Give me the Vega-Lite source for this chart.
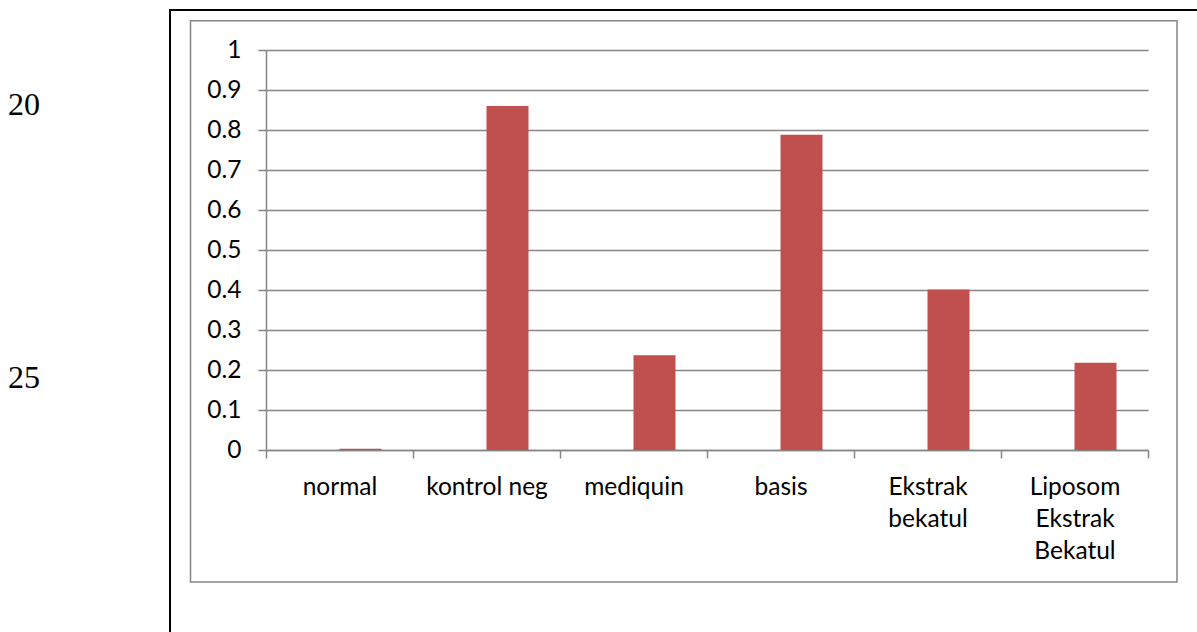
{
  "$schema": "https://vega.github.io/schema/vega-lite/v6.json",
  "width": 882,
  "height": 400,
  "autosize": {"type": "none"},
  "padding": {"left": 266, "top": 50, "right": 49, "bottom": 182},
  "background": "#ffffff",
  "config": {
    "view": {"stroke": null},
    "font": "Lato"
  },
  "resolve": {"scale": {"x": "independent", "y": "independent"}},
  "layer": [
    {
      "description": "page border (top and left edges)",
      "data": {"values": [{"kotak": "halaman"}]},
      "mark": {"type": "rect", "fillOpacity": 0, "stroke": "#000000", "strokeWidth": 2},
      "encoding": {
        "x": {"datum": 0, "type": "quantitative", "scale": {"domain": [0, 1], "range": [-96, 1000]}, "axis": null},
        "x2": {"datum": 1},
        "y": {"datum": 0, "type": "quantitative", "scale": {"domain": [0, 1], "range": [-40, 700]}, "axis": null},
        "y2": {"datum": 1}
      }
    },
    {
      "description": "chart area border",
      "data": {"values": [{"kotak": "grafik"}]},
      "mark": {"type": "rect", "fillOpacity": 0, "stroke": "#868686", "strokeWidth": 1.5},
      "encoding": {
        "x": {"datum": 0, "type": "quantitative", "scale": {"domain": [0, 1], "range": [-75.5, 911]}, "axis": null},
        "x2": {"datum": 1},
        "y": {"datum": 0, "type": "quantitative", "scale": {"domain": [0, 1], "range": [-29.3, 532]}, "axis": null},
        "y2": {"datum": 1}
      }
    },
    {
      "description": "document line numbers in the margin",
      "data": {"values": [{"baris": 20}, {"baris": 25}]},
      "mark": {"type": "text", "font": "Liberation Serif", "fontSize": 32, "align": "center", "baseline": "alphabetic", "color": "#000000"},
      "encoding": {
        "text": {"field": "baris", "type": "quantitative"},
        "x": {"datum": 0, "type": "quantitative", "scale": {"domain": [0, 1], "range": [-242, 640]}, "axis": null},
        "y": {"field": "baris", "type": "quantitative", "scale": {"domain": [20, 25], "range": [65, 338]}, "axis": null}
      }
    },
    {
      "description": "bars per treatment group",
      "data": {
        "values": [
          {"kelompok": "normal", "seri": "Seri 2", "nilai": 0.003},
          {"kelompok": "kontrol neg", "seri": "Seri 2", "nilai": 0.86},
          {"kelompok": "mediquin", "seri": "Seri 2", "nilai": 0.237},
          {"kelompok": "basis", "seri": "Seri 2", "nilai": 0.788},
          {"kelompok": "Ekstrak bekatul", "seri": "Seri 2", "nilai": 0.401},
          {"kelompok": "Liposom Ekstrak Bekatul", "seri": "Seri 2", "nilai": 0.218}
        ]
      },
      "mark": {"type": "bar", "color": "#C0504D"},
      "encoding": {
        "x": {
          "field": "kelompok",
          "type": "nominal",
          "sort": null,
          "scale": {"paddingInner": 0, "paddingOuter": 0},
          "axis": {
            "title": null,
            "labelAngle": 0,
            "labelFont": "Lato",
            "labelFontSize": 24.5,
            "labelColor": "#000000",
            "labelBaseline": "alphabetic",
            "labelPadding": 36,
            "labelLineHeight": 32,
            "labelExpr": "length(datum.label) > 12 ? split(datum.label, ' ') : datum.label",
            "tickBand": "extent",
            "tickSize": 8,
            "tickColor": "#868686",
            "tickWidth": 1.5,
            "domainColor": "#868686",
            "domainWidth": 1.5,
            "grid": false
          }
        },
        "xOffset": {
          "field": "seri",
          "type": "nominal",
          "scale": {"domain": ["Seri 1", "Seri 2"], "paddingInner": 0, "paddingOuter": 0.75}
        },
        "y": {
          "field": "nilai",
          "type": "quantitative",
          "scale": {"domain": [0, 1], "nice": false, "zero": true},
          "axis": {
            "title": null,
            "values": [0, 0.1, 0.2, 0.3, 0.4, 0.5, 0.6, 0.7, 0.8, 0.9, 1],
            "format": "~g",
            "labelFont": "Lato",
            "labelFontSize": 24.5,
            "labelColor": "#000000",
            "labelPadding": 17,
            "tickSize": 8,
            "tickColor": "#868686",
            "tickWidth": 1.5,
            "domainColor": "#868686",
            "domainWidth": 1.5,
            "grid": true,
            "gridColor": "#868686",
            "gridWidth": 1.5
          }
        }
      }
    }
  ]
}
